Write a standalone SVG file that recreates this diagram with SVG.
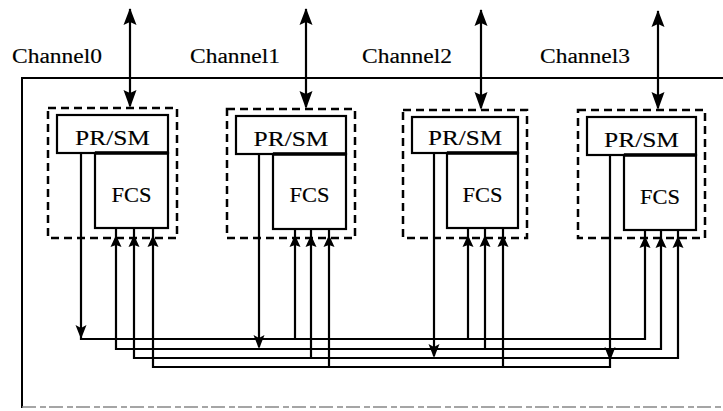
<svg xmlns="http://www.w3.org/2000/svg" xmlns:xlink="http://www.w3.org/1999/xlink" width="723" height="411" viewBox="0 0 723 411">
<style>
  .frame{fill:none;stroke:#000;stroke-width:2}
  .dash{fill:none;stroke:#000;stroke-width:2.5;stroke-dasharray:8 5}
  .box{fill:#fff;stroke:#000;stroke-width:2.2}
  .seam{stroke:#000;stroke-width:3.5}
  .wire{fill:none;stroke:#000;stroke-width:2.2}
  .lbl{font-family:"Liberation Serif","Times New Roman",serif;font-size:20px;fill:#000;stroke:#000;stroke-width:0.15}
  .t{font-family:"Liberation Serif","Times New Roman",serif;font-size:21px;fill:#000;stroke:#000;stroke-width:0.15;text-anchor:middle}
</style>
<defs>
  <path id="ahS" d="M0,0 L-5.5,12 L0,10 L5.5,12 Z" fill="#000"/>
  <path id="ahD" d="M0,0 L-5.5,-14 L0,-11 L5.5,-14 Z" fill="#000"/>
  <path id="ahBU" d="M0,0 L-6.5,17 L0,14 L6.5,17 Z" fill="#000"/>
  <path id="ahBD" d="M0,0 L-6.5,-18 L0,-15 L6.5,-18 Z" fill="#000"/>
</defs>
<rect width="723" height="411" fill="#fff"/>

<g id="frame">
  <path class="frame" d="M723,78 H22 V408"/>
  <line x1="22" y1="407" x2="723" y2="407" stroke="#888" stroke-width="1.5" stroke-dasharray="14 4 6 3"/>
</g>

<g id="labels">
  <text class="lbl" x="12" y="63" textLength="90" lengthAdjust="spacingAndGlyphs">Channel0</text>
  <text class="lbl" x="190" y="63" textLength="90" lengthAdjust="spacingAndGlyphs">Channel1</text>
  <text class="lbl" x="362" y="63" textLength="90" lengthAdjust="spacingAndGlyphs">Channel2</text>
  <text class="lbl" x="540" y="63" textLength="90" lengthAdjust="spacingAndGlyphs">Channel3</text>
</g>

<g id="channel0">
  <rect class="dash" x="48" y="108" width="129" height="130"/>
  <rect class="box" x="57" y="115" width="111" height="38"/>
  <rect class="box" x="95" y="153" width="73" height="75"/>
  <line class="seam" x1="95" y1="153" x2="168" y2="153"/>
  <text class="t" x="112.5" y="145" textLength="75" lengthAdjust="spacingAndGlyphs">PR/SM</text>
  <text class="t" x="131.5" y="202" textLength="40" lengthAdjust="spacingAndGlyphs">FCS</text>
</g>
<g id="channel1">
  <rect class="dash" x="227" y="109" width="128" height="129"/>
  <rect class="box" x="236" y="116" width="110" height="38"/>
  <rect class="box" x="273" y="154" width="73" height="75"/>
  <line class="seam" x1="273" y1="154" x2="346" y2="154"/>
  <text class="t" x="291" y="146" textLength="75" lengthAdjust="spacingAndGlyphs">PR/SM</text>
  <text class="t" x="309.5" y="202" textLength="40" lengthAdjust="spacingAndGlyphs">FCS</text>
</g>
<g id="channel2">
  <rect class="dash" x="403" y="110" width="124" height="128"/>
  <rect class="box" x="412" y="117" width="106" height="36"/>
  <rect class="box" x="447" y="153" width="71" height="75"/>
  <line class="seam" x1="447" y1="153" x2="518" y2="153"/>
  <text class="t" x="465" y="145" textLength="74" lengthAdjust="spacingAndGlyphs">PR/SM</text>
  <text class="t" x="482.5" y="202" textLength="40" lengthAdjust="spacingAndGlyphs">FCS</text>
</g>
<g id="channel3">
  <rect class="dash" x="578" y="110" width="127" height="128"/>
  <rect class="box" x="587" y="117" width="109" height="38"/>
  <rect class="box" x="624" y="155" width="72" height="75"/>
  <line class="seam" x1="624" y1="155" x2="696" y2="155"/>
  <text class="t" x="641.5" y="147" textLength="75" lengthAdjust="spacingAndGlyphs">PR/SM</text>
  <text class="t" x="660" y="204" textLength="40" lengthAdjust="spacingAndGlyphs">FCS</text>
</g>

<g id="connectors">
  <!-- external bidirectional links -->
  <line class="wire" x1="130" y1="9" x2="130" y2="106"/>
  <use xlink:href="#ahBU" x="130" y="8"/><use xlink:href="#ahBD" x="130" y="108"/>
  <line class="wire" x1="306" y1="9" x2="306" y2="107"/>
  <use xlink:href="#ahBU" x="306" y="8"/><use xlink:href="#ahBD" x="306" y="109"/>
  <line class="wire" x1="481" y1="10" x2="481" y2="108"/>
  <use xlink:href="#ahBU" x="481" y="9"/><use xlink:href="#ahBD" x="481" y="110"/>
  <line class="wire" x1="658" y1="11" x2="658" y2="108"/>
  <use xlink:href="#ahBU" x="658" y="10"/><use xlink:href="#ahBD" x="658" y="110"/>

  <!-- bus 0: Channel0 PR/SM to other FCS -->
  <path class="wire" d="M81,153 V339 H645 V230"/>
  <use xlink:href="#ahD" x="81" y="339"/>
  <line class="wire" x1="295" y1="339" x2="295" y2="229"/>
  <line class="wire" x1="468" y1="339" x2="468" y2="228"/>

  <!-- bus 1: Channel1 PR/SM to other FCS -->
  <path class="wire" d="M116,228 V349 H661 V230"/>
  <line class="wire" x1="259" y1="154" x2="259" y2="347"/>
  <use xlink:href="#ahD" x="259" y="349"/>
  <line class="wire" x1="485" y1="349" x2="485" y2="228"/>

  <!-- bus 2: Channel2 PR/SM to other FCS -->
  <path class="wire" d="M134,228 V358 H678 V230"/>
  <line class="wire" x1="311" y1="358" x2="311" y2="229"/>
  <line class="wire" x1="434" y1="153" x2="434" y2="356"/>
  <use xlink:href="#ahD" x="434" y="358"/>

  <!-- bus 3: Channel3 PR/SM to other FCS -->
  <path class="wire" d="M153,228 V367 H610 V155"/>
  <use xlink:href="#ahD" x="610" y="361"/>
  <line class="wire" x1="329" y1="367" x2="329" y2="229"/>
  <line class="wire" x1="503" y1="367" x2="503" y2="228"/>

  <!-- input arrowheads into FCS -->
  <use xlink:href="#ahS" x="116" y="235"/><use xlink:href="#ahS" x="134" y="235"/><use xlink:href="#ahS" x="153" y="235"/>
  <use xlink:href="#ahS" x="295" y="235"/><use xlink:href="#ahS" x="311" y="235"/><use xlink:href="#ahS" x="329" y="235"/>
  <use xlink:href="#ahS" x="468" y="235"/><use xlink:href="#ahS" x="485" y="235"/><use xlink:href="#ahS" x="503" y="235"/>
  <use xlink:href="#ahS" x="645" y="236"/><use xlink:href="#ahS" x="661" y="236"/><use xlink:href="#ahS" x="678" y="236"/>
</g>
</svg>
